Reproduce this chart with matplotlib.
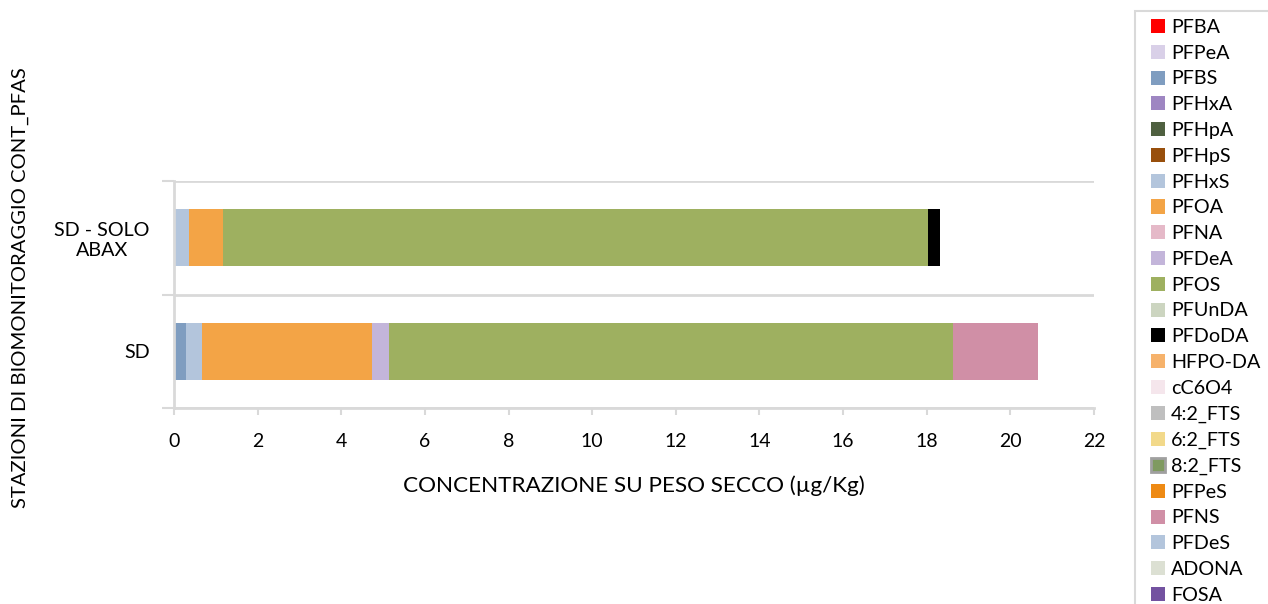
import matplotlib
matplotlib.use("Agg")
import matplotlib.pyplot as plt
from matplotlib.patches import Patch, Rectangle
import numpy as np

plt.rcParams['font.family'] = ['Lato', 'DejaVu Sans']

categories = ["SD", "SD - SOLO\nABAX"]
series = ["PFBA", "PFPeA", "PFBS", "PFHxA", "PFHpA", "PFHpS", "PFHxS", "PFOA", "PFNA",
          "PFDeA", "PFOS", "PFUnDA", "PFDoDA", "HFPO-DA", "cC6O4", "4:2_FTS", "6:2_FTS",
          "8:2_FTS", "PFPeS", "PFNS", "PFDeS", "ADONA", "FOSA"]
# values per series: [SD, SD - SOLO ABAX]
values = {
    "PFBA":   [0.0, 0.0],
    "PFPeA":  [0.0, 0.0],
    "PFBS":   [0.29, 0.0],
    "PFHxA":  [0.0, 0.0],
    "PFHpA":  [0.0, 0.0],
    "PFHpS":  [0.0, 0.0],
    "PFHxS":  [0.37, 0.36],
    "PFOA":   [4.07, 0.80],
    "PFNA":   [0.0, 0.0],
    "PFDeA":  [0.42, 0.0],
    "PFOS":   [13.49, 16.86],
    "PFUnDA": [0.0, 0.0],
    "PFDoDA": [0.0, 0.30],
    "HFPO-DA": [0.0, 0.0],
    "cC6O4":  [0.0, 0.0],
    "4:2_FTS": [0.0, 0.0],
    "6:2_FTS": [0.0, 0.0],
    "8:2_FTS": [0.0, 0.0],
    "PFPeS":  [0.0, 0.0],
    "PFNS":   [2.02, 0.0],
    "PFDeS":  [0.0, 0.0],
    "ADONA":  [0.0, 0.0],
    "FOSA":   [0.0, 0.0],
}
colors = ["#FF0000", "#D9D0E8", "#7F9DC0", "#9E86C2", "#4F6040", "#984F0C", "#B3C5DC",
          "#F3A446", "#E5B9C8", "#C3B5DA", "#9EB060", "#CCD5C0", "#000000", "#F6B26B",
          "#F5E6EC", "#BFBFBF", "#F2D98A", "#7F9A60", "#EE8A14", "#D08FA6", "#B3C5DC",
          "#DCE0D3", "#7352A0"]
x_ticks = list(range(0, 23, 2))

fig = plt.figure(figsize=(12.68, 6.04), dpi=100)
ax = fig.add_axes([174/1268, 1-408/604, 920/1268, 227/604])

ypos = np.arange(len(categories))
left = np.zeros(len(categories))
handles = []
for name, col in zip(series, colors):
    v = np.array(values[name])
    ax.barh(ypos, v, left=left, height=0.5, color=col, linewidth=0)
    left += v
    if name == "8:2_FTS":
        handles.append(Patch(facecolor=col, edgecolor="#A0A0A0", linewidth=2))
    else:
        handles.append(Patch(facecolor=col, edgecolor="none"))

ax.set_xlim(0, 22)
ax.set_ylim(-0.5, 1.5)
ax.set_xticks(x_ticks)
ax.set_xticklabels([str(t) for t in x_ticks], fontsize=14)
ax.set_yticks([-0.5, 0.5, 1.5])
ax.set_yticklabels([])
ax.set_yticks(ypos, minor=True)
ax.set_yticklabels(categories, minor=True, fontsize=14.2, multialignment='center')
ax.tick_params(axis='y', which='minor', length=0, pad=17.5)
ax.tick_params(axis='y', which='major', length=9, color='#D9D9D9', width=1.5)
ax.tick_params(axis='x', length=5, color='#D9D9D9', width=1.5, pad=13)

for s in ['top', 'right']:
    ax.spines[s].set_visible(False)
for s in ['left', 'bottom']:
    ax.spines[s].set_color('#D9D9D9')
    ax.spines[s].set_linewidth(2)
ax.grid(axis='y', which='major', color='#D9D9D9', linewidth=2)
ax.set_axisbelow(True)

ax.set_xlabel("CONCENTRAZIONE SU PESO SECCO (µg/Kg)", fontsize=16.2, labelpad=18)
fig.text(20/1268, 1 - 288/604, "STAZIONI DI BIOMONITORAGGIO CONT_PFAS", rotation=90,
         ha='center', va='center', fontsize=14.6)

# legend frame
fig.patches.append(Rectangle((1135/1268, -0.05), 0.2, 1 - 11/604 + 0.05,
                             transform=fig.transFigure, facecolor='white',
                             edgecolor='#D9D9D9', linewidth=1.5, zorder=0))
leg = fig.legend(handles=handles, labels=series, loc='upper left',
                 bbox_to_anchor=(1147/1268, 1-15/604), frameon=False, fontsize=14.2,
                 handlelength=0.72, handleheight=0.72, handletextpad=0.3,
                 labelspacing=0.445, borderpad=0.2, borderaxespad=0)

fig.savefig("out.png", dpi=100)
